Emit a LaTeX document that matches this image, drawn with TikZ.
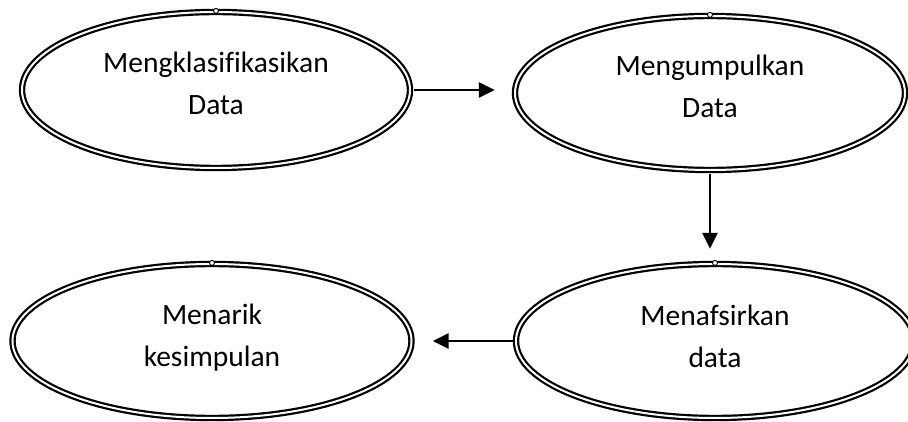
\documentclass[tikz,border=0pt]{standalone}
\usepackage{fontspec}
\setmainfont[Ligatures=NoCommon]{Carlito}
\usetikzlibrary{shapes.geometric,arrows.meta}
\begin{document}
\begin{tikzpicture}[x=1pt,y=1pt,
  proc/.style={ellipse, draw=black, double=white, double distance=2pt, line width=2.2pt,
    inner sep=0pt},
  lbl/.style={align=center, inner sep=0pt, font=\fontsize{29.5}{42}\selectfont},
  handle/.style={circle, draw=black, fill=white, line width=0.9pt, minimum size=5pt, inner sep=0pt},
  arr/.style={line width=2.8pt, -{Triangle[length=16pt,width=15pt]}}]
\useasboundingbox (0,0) rectangle (908,421);
\clip (0,0) rectangle (908,421);
\node[proc, minimum width=388pt, minimum height=156pt] (e1) at (216,331) {};
\node[proc, minimum width=390pt, minimum height=154pt] (e2) at (710,328) {};
\node[proc, minimum width=399pt, minimum height=154pt] (e3) at (212,80) {};
\node[proc, minimum width=398pt, minimum height=154pt] (e4) at (715,80) {};
\node[lbl] (t1) at ([yshift=7pt]e1.center) {Mengklasifikasikan\\Data};
\node[lbl] (t2) at ([yshift=7pt]e2.center) {Mengumpulkan\\Data};
\node[lbl] (t3) at ([yshift=3pt]e3.center) {Menarik\\kesimpulan};
\node[lbl] (t4) at ([yshift=5pt]e4.center) {Menafsirkan\\data};
\foreach \e in {e1,e2,e3,e4} \node[handle] at (\e.north) {};
\coordinate (a1s) at ([xshift=3pt]e1.east);
\coordinate (a1e) at ([xshift=-19pt]e2.west |- a1s);
\draw[arr] (a1s) -- (a1e);
\coordinate (a2s) at ([yshift=-3pt]e2.south);
\coordinate (a2e) at ([yshift=14pt]a2s |- e4.north);
\draw[arr] (a2s) -- (a2e);
\coordinate (a3s) at ([xshift=-2pt]e4.west);
\coordinate (a3e) at ([xshift=20pt]e3.east |- a3s);
\draw[arr] (a3s) -- (a3e);
\end{tikzpicture}
\end{document}
